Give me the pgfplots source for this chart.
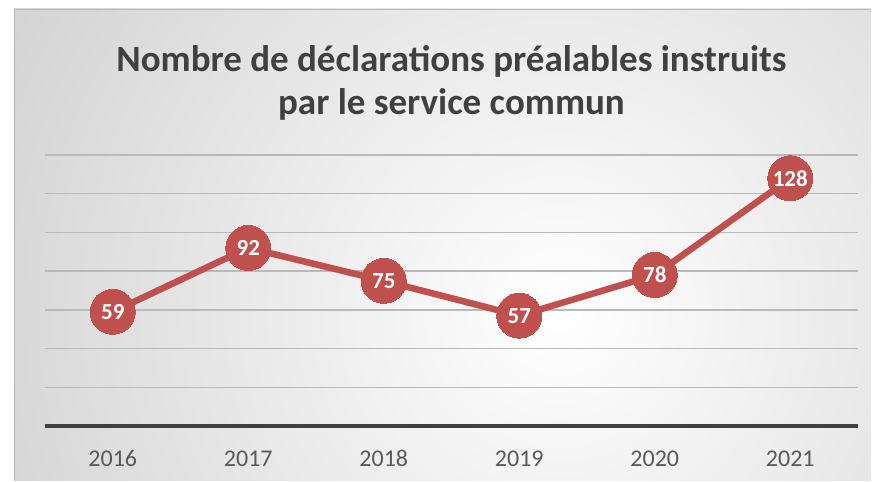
\documentclass[border=0pt]{standalone}
\usepackage{pgfplots}
\pgfplotsset{compat=1.18}
\usepackage{fontspec}
\setmainfont{Carlito}
\definecolor{linered}{RGB}{192,80,77}
\definecolor{titlegray}{RGB}{64,64,64}
\definecolor{ticklab}{RGB}{89,89,89}
\definecolor{gridc}{RGB}{185,185,185}
\definecolor{bgedge}{RGB}{192,192,192}
\begin{document}
\begin{tikzpicture}
\fill[white] (0pt,0pt) rectangle (873pt,481pt);
\begin{scope}
\clip (14pt,0pt) rectangle (871pt,472pt);
\fill[bgedge] (14pt,0pt) rectangle (871pt,472pt);
\shade[inner color=white, outer color=bgedge] (560pt,170pt) circle (900pt);
\end{scope}
\draw[gray!55, line width=1pt] (14.5pt,0pt) -- (14.5pt,471.5pt) -- (871pt,471.5pt);
\begin{axis}[
  at={(45pt,55pt)}, anchor=south west,
  scale only axis, width=813pt, height=271pt,
  xmin=-0.5, xmax=5.5, ymin=0, ymax=140,
  axis line style={draw=none},
  major tick length=0pt,
  xtick={0,...,5},
  xticklabels={2016,2017,2018,2019,2020,2021},
  x tick label style={font=\fontsize{24}{28}\selectfont, text=ticklab, yshift=-21pt},
  ytick={20,40,...,140},
  yticklabels={},
  ymajorgrids,
  grid style={gridc, line width=1.5pt},
  extra y ticks={0},
  extra y tick labels={},
  extra y tick style={grid style={titlegray, line width=4pt}},
  clip=false,
  title={Nombre de déclarations préalables instruits\\par le service commun},
  title style={at={(axis description cs:0.5,1.245)}, anchor=center, align=center,
    font=\fontsize{37}{43}\selectfont\bfseries, text=titlegray},
  nodes near coords,
  every node near coord/.append style={anchor=center, text=white, font=\fontsize{23}{26}\selectfont\bfseries},
  /pgf/number format/assume math mode=true,
]
\addplot[linered, line width=6.5pt, mark=*, mark size=22.5pt, mark options={fill=linered, draw=linered, line width=0pt}]
  coordinates {(0,59) (1,92) (2,75) (3,57) (4,78) (5,128)};
\end{axis}
\end{tikzpicture}
\end{document}
